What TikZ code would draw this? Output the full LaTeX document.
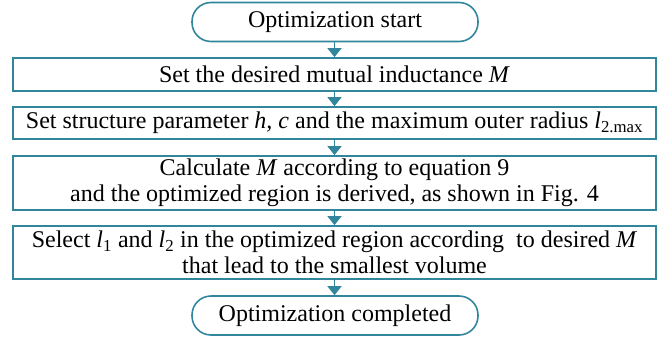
\documentclass[tikz,border=0pt]{standalone}
\usepackage{fontspec}
\setmainfont{Liberation Serif}
\usetikzlibrary{arrows.meta}
\definecolor{tealc}{HTML}{31859C}
\tikzset{
  box/.style={draw=tealc, line width=1.8pt, minimum width=643pt, inner sep=0pt, align=center, font=\fontsize{24}{26}\selectfont},
  term/.style={draw=tealc, line width=1.6pt, minimum width=286pt, minimum height=39pt, rounded corners=19pt, inner sep=0pt, font=\fontsize{24}{26}\selectfont},
  flow/.style={draw=tealc, line width=1.8pt, -{Triangle[width=14pt,length=9pt]}}
}
\begin{document}
\begin{tikzpicture}[x=1pt,y=-1pt]
\useasboundingbox (0,0) rectangle (668,337);
\node[term] (start) at (335,22) {Optimization start};
\node[box, minimum height=33pt] (b1) at (334.5,74.5) {Set the desired mutual inductance \textit{M}};
\node[box, minimum height=32pt] (b2) at (334.5,123) {Set structure parameter \textit{h, c} and the maximum outer radius \textit{l}\textsubscript{2.max}};
\node[box, minimum height=54pt] (b3) at (334.5,183) {Calculate \textit{M} according to equation 9\\and the optimized region is derived, as shown in Fig. 4};
\node[box, minimum height=53pt] (b4) at (334.5,252.5) {Select \textit{l}\textsubscript{1} and \textit{l}\textsubscript{2} in the optimized region according~ to desired \textit{M}\\that lead to the smallest volume};
\node[term] (end) at (335,315.5) {Optimization completed};
\draw[flow] (start.south -| b1.north) -- (b1.north);
\draw[flow] (b1.south) -- (b2.north);
\draw[flow] (b2.south) -- (b3.north);
\draw[flow] (b3.south) -- (b4.north);
\draw[flow] (b4.south) -- (end.north -| b4.south);
\end{tikzpicture}
\end{document}
